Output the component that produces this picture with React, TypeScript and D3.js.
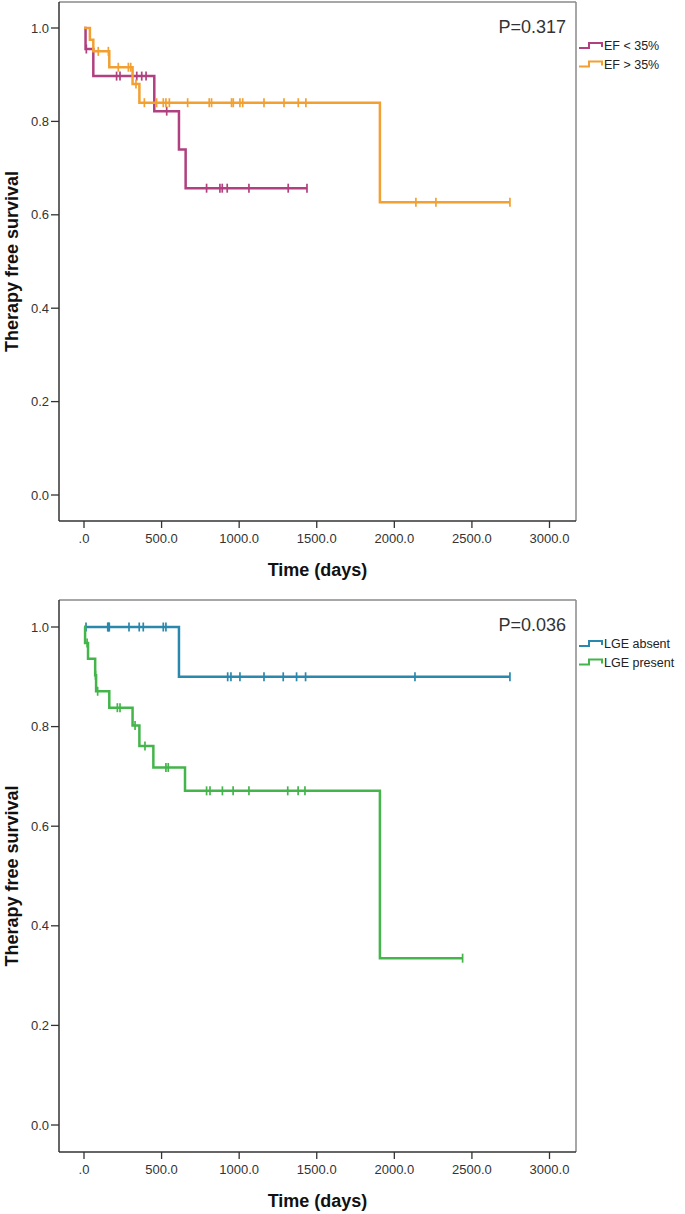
import React from 'react';
import * as d3 from 'd3';

// Kaplan-Meier steps: [time (days), survival after the event]
const efLowSteps: [number, number][] = [[0, 1], [10, 0.955], [60, 0.897], [453, 0.822], [612, 0.74], [655, 0.657]];
const efLowEnd = 1437;
const efLowCensored = [15, 210, 232, 340, 372, 400, 533, 790, 876, 891, 923, 1063, 1316, 1437];

const efHighSteps: [number, number][] = [[0, 1], [38, 0.975], [60, 0.95], [163, 0.916], [313, 0.88], [357, 0.84], [1907, 0.627]];
const efHighEnd = 2745;
const efHighCensored = [92, 157, 221, 286, 301, 335, 389, 468, 511, 528, 550, 668, 807, 822, 951, 962, 1005, 1023, 1160, 1289, 1381, 1430, 2139, 2268, 2745];

const lgeAbsentSteps: [number, number][] = [[0, 1], [612, 0.9]];
const lgeAbsentEnd = 2745;
const lgeAbsentCensored = [13, 153, 158, 163, 290, 356, 382, 511, 528, 926, 947, 1005, 1160, 1284, 1370, 1428, 2133, 2745];

const lgePresentSteps: [number, number][] = [[0, 1], [7, 0.968], [26, 0.936], [72, 0.903], [78, 0.871], [163, 0.838], [313, 0.802], [357, 0.761], [447, 0.718], [651, 0.671], [1907, 0.335]];
const lgePresentEnd = 2440;
const lgePresentCensored = [20, 74, 88, 215, 232, 329, 393, 528, 543, 790, 812, 892, 961, 1063, 1313, 1380, 1424, 2440];

const xTicks = [0, 500, 1000, 1500, 2000, 2500, 3000];
const yTicks = [0, 0.2, 0.4, 0.6, 0.8, 1.0];

const FONT = "'Liberation Sans', Arial, sans-serif";

type Series = { label: string; color: string; steps: [number, number][]; end: number; censored: number[] };

const topSeries: Series[] = [
  { label: 'EF < 35%', color: '#b0407f', steps: efLowSteps, end: efLowEnd, censored: efLowCensored },
  { label: 'EF > 35%', color: '#f2a031', steps: efHighSteps, end: efHighEnd, censored: efHighCensored },
];
const bottomSeries: Series[] = [
  { label: 'LGE absent', color: '#2b88ad', steps: lgeAbsentSteps, end: lgeAbsentEnd, censored: lgeAbsentCensored },
  { label: 'LGE present', color: '#43b54b', steps: lgePresentSteps, end: lgePresentEnd, censored: lgePresentCensored },
];

function survAt(steps: [number, number][], t: number) {
  let s = steps[0][1];
  for (const [time, v] of steps) if (time <= t) s = v;
  return s;
}

function KMPanel({ top, bottom, y1, y0, series, pText }: { top: number; bottom: number; y1: number; y0: number; series: Series[]; pText: string }) {
  const left = 59;
  const right = 576;
  const x = d3.scaleLinear().domain([0, 3000]).range([84, 549.5]);
  const y = d3.scaleLinear().domain([0, 1]).range([y0, y1]);
  const line = d3.line<[number, number]>()
    .x(d => x(d[0]))
    .y(d => y(d[1]))
    .curve(d3.curveStepAfter);

  return (
    <g>
      {/* frame */}
      <line x1={left} x2={right} y1={top} y2={top} stroke="#8a8a8a" strokeWidth={1.5} />
      <line x1={right} x2={right} y1={top} y2={bottom} stroke="#8a8a8a" strokeWidth={1.5} />
      <line x1={left} x2={left} y1={top} y2={bottom} stroke="#333" strokeWidth={1.5} />
      <line x1={left} x2={right} y1={bottom} y2={bottom} stroke="#333" strokeWidth={1.5} />

      {yTicks.map(t => (
        <g key={t}>
          <line x1={left - 8} x2={left} y1={y(t)} y2={y(t)} stroke="#333" strokeWidth={1.3} />
          <text x={left - 10} y={y(t)} dy="0.35em" textAnchor="end" fontSize={13} fill="#333">{t.toFixed(1)}</text>
        </g>
      ))}
      {xTicks.map(t => (
        <g key={t}>
          <line x1={x(t)} x2={x(t)} y1={bottom} y2={bottom + 7} stroke="#333" strokeWidth={1.3} />
          <text x={x(t)} y={bottom + 22} textAnchor="middle" fontSize={13} fill="#333">{t === 0 ? '.0' : t.toFixed(1)}</text>
        </g>
      ))}

      <text x={(left + right) / 2} y={bottom + 55} textAnchor="middle" fontSize={18} fontWeight="bold" fill="#111">Time (days)</text>
      <text transform={`translate(18,${(top + bottom) / 2}) rotate(-90)`} textAnchor="middle" fontSize={18} fontWeight="bold" fill="#111">Therapy free survival</text>

      <text x={566} y={top + 31} textAnchor="end" fontSize={18} fill="#333">{pText}</text>

      {series.map(s => {
        const pts: [number, number][] = [...s.steps, [s.end, s.steps[s.steps.length - 1][1]]];
        return (
          <g key={s.label}>
            <path d={line(pts) || ''} fill="none" stroke={s.color} strokeWidth={2.5} />
            {s.censored.map((c, i) => (
              <line key={i} x1={x(c)} x2={x(c)} y1={y(survAt(s.steps, c)) - 4.5} y2={y(survAt(s.steps, c)) + 4.5} stroke={s.color} strokeWidth={1.7} />
            ))}
          </g>
        );
      })}

      {series.map((s, i) => {
        const by = top + 47 + i * 18.5;
        return (
          <g key={s.label}>
            <path d={`M579,${by - 1} H589 V${by - 6} H602 V${by - 2}`} fill="none" stroke={s.color} strokeWidth={2} />
            <text x={604} y={by + 1} fontSize={12.5} fill="#222">{s.label}</text>
          </g>
        );
      })}
    </g>
  );
}

export default function App() {
  return (
    <svg width={685} height={1214} style={{ position: 'absolute', left: 0, top: 0, background: '#fff', fontFamily: FONT }}>
      <rect width={685} height={1214} fill="#fff" />
      <KMPanel top={2} bottom={521} y1={28} y0={495} series={topSeries} pText="P=0.317" />
      <KMPanel top={600} bottom={1152} y1={627} y0={1125} series={bottomSeries} pText="P=0.036" />
    </svg>
  );
}
